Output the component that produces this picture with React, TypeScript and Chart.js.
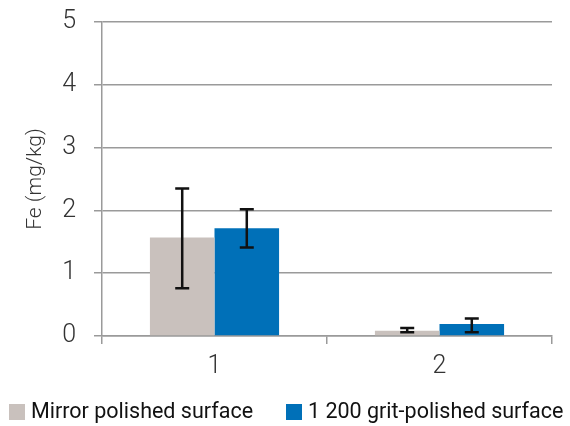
import React, { useEffect, useRef } from "react";
import { Chart, registerables } from "chart.js";

Chart.register(...registerables);

const categories = ["1", "2"];
const seriesNames = ["Mirror polished surface", "1 200 grit-polished surface"];
const mirrorValues = [1.57, 0.085];
const mirrorLow = [0.76, 0.06];
const mirrorHigh = [2.35, 0.127];
const gritValues = [1.715, 0.19];
const gritLow = [1.41, 0.06];
const gritHigh = [2.02, 0.28];
const yTicks = [0, 1, 2, 3, 4, 5];

const COLORS = ["#c9c1bd", "#0070b8"];
const TICK_FONT = "Roboto";

const errorBarPlugin = {
  id: "errorBars",
  afterDatasetsDraw(chart: any) {
    const ctx = chart.ctx;
    const yScale = chart.scales.y;
    chart.data.datasets.forEach((ds: any, i: number) => {
      const meta = chart.getDatasetMeta(i);
      meta.data.forEach((bar: any, j: number) => {
        const lo = ds.errLow[j];
        const hi = ds.errHigh[j];
        const x = bar.x;
        const yLo = yScale.getPixelForValue(lo);
        const yHi = yScale.getPixelForValue(hi);
        const cap = 7;
        ctx.save();
        ctx.strokeStyle = "#111";
        ctx.lineWidth = 2.5;
        ctx.beginPath();
        ctx.moveTo(x, yLo);
        ctx.lineTo(x, yHi);
        ctx.moveTo(x - cap, yLo);
        ctx.lineTo(x + cap, yLo);
        ctx.moveTo(x - cap, yHi);
        ctx.lineTo(x + cap, yHi);
        ctx.stroke();
        ctx.restore();
      });
    });
  },
};

const legendPlugin = {
  id: "customLegend",
  afterDraw(chart: any) {
    const ctx = chart.ctx;
    const boxXs = [9, 286];
    const boxY = 404;
    const box = 16;
    ctx.save();
    ctx.font = `21.5px ${TICK_FONT}`;
    ctx.textBaseline = "middle";
    ctx.textAlign = "left";
    chart.data.datasets.forEach((ds: any, i: number) => {
      ctx.fillStyle = ds.backgroundColor;
      ctx.fillRect(boxXs[i], boxY, box, box);
      ctx.fillStyle = "#111";
      ctx.fillText(ds.label, boxXs[i] + box + 6, boxY + box / 2 + 1);
    });
    ctx.restore();
  },
};

export default function App() {
  const ref = useRef<HTMLCanvasElement>(null);
  useEffect(() => {
    if (!ref.current) return;
    const chart = new Chart(ref.current, {
      type: "bar",
      data: {
        labels: categories,
        datasets: [
          {
            label: seriesNames[0],
            data: mirrorValues,
            backgroundColor: COLORS[0],
            errLow: mirrorLow,
            errHigh: mirrorHigh,
          } as any,
          {
            label: seriesNames[1],
            data: gritValues,
            backgroundColor: COLORS[1],
            errLow: gritLow,
            errHigh: gritHigh,
          } as any,
        ],
      },
      options: {
        animation: false,
        responsive: false,
        layout: { padding: { top: 22, right: 18, left: 0, bottom: 0 } },
        datasets: { bar: { categoryPercentage: 0.574, barPercentage: 1 } },
        plugins: { legend: { display: false }, tooltip: { enabled: false } },
        scales: {
          x: {
            grid: {
              offset: true,
              drawOnChartArea: false,
              color: "#9a9a9a",
              tickLength: 8,
              lineWidth: 1.5,
            },
            border: { color: "#9a9a9a", width: 1.5 },
            ticks: {
              font: { family: TICK_FONT, size: 25, weight: "300" },
              color: "#333",
              padding: 8,
            },
            afterFit(scale: any) {
              scale.height = 90;
              scale.paddingLeft = 0;
              scale.paddingRight = 0;
            },
          },
          y: {
            min: 0,
            max: 5,
            afterBuildTicks(scale: any) {
              scale.ticks = yTicks.map((v) => ({ value: v }));
            },
            grid: { color: "#9a9a9a", tickLength: 8, lineWidth: 1.5 },
            border: { color: "#9a9a9a", width: 1.5 },
            ticks: {
              font: { family: TICK_FONT, size: 25, weight: "300" },
              color: "#333",
              padding: 18,
            },
            title: {
              display: true,
              text: "Fe (mg/kg)",
              font: { family: TICK_FONT, size: 21, weight: "300" },
              color: "#333",
              padding: { top: 23, bottom: 0 },
            },
            afterFit(scale: any) {
              scale.width = 102;
              scale.paddingTop = 0;
              scale.paddingBottom = 0;
            },
          },
        },
      },
      plugins: [errorBarPlugin, legendPlugin],
    });
    return () => chart.destroy();
  }, []);
  return (
    <div style={{ position: "fixed", left: 0, top: 0, width: 570, height: 426 }}>
      <canvas ref={ref} width={570} height={426} />
    </div>
  );
}
